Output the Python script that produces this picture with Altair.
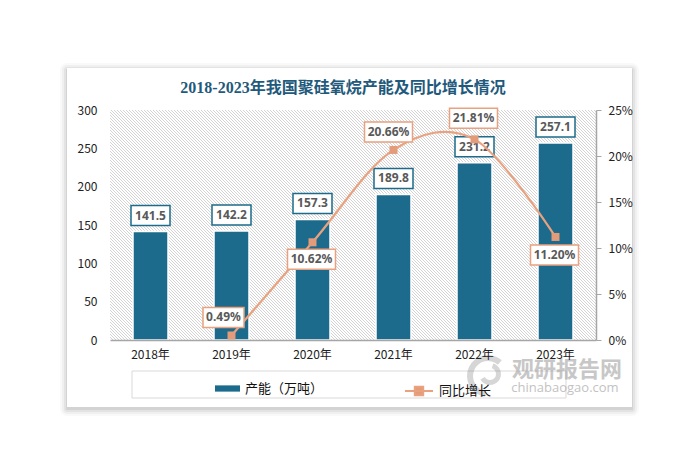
import altair as alt
import pandas as pd

# ---------------- data ----------------
years = ["2018年", "2019年", "2020年", "2021年", "2022年", "2023年"]
capacity = [141.5, 142.2, 157.3, 189.8, 231.2, 257.1]          # 产能（万吨）
growth_years = ["2019年", "2020年", "2021年", "2022年", "2023年"]
growth = [0.49, 10.62, 20.66, 21.81, 11.20]                    # 同比增长 (%)
left_ticks = [0, 50, 100, 150, 200, 250, 300]
right_ticks = [0, 5, 10, 15, 20, 25]

# ---------------- style ----------------
W, H = 486, 230
BAR = "#1c6b8c"
LINE = "#e9a17f"
MARK = "#e49b79"
TITLE_C = "#1f5a7c"
CJK = "Noto Sans CJK SC"
NUM = "Noto Sans"
# label placement (pixel offsets of the growth label boxes from their points)
pct_dx = [-8, -1, -5, -1, -1]
pct_dy = [-18, 17, -18, -21, 18]

bar_df = pd.DataFrame({"year": years, "cap": capacity, "series": "产能（万吨）"})
bar_df["label"] = [f"{v:.1f}" for v in capacity]
g_df = pd.DataFrame({"year": growth_years, "g": [v / 100 for v in growth], "series": "同比增长"})
g_df["label"] = [f"{v:.2f}%" for v in growth]
one = pd.DataFrame({"a": [0]})

x_enc = alt.X("year:N", sort=years,
              scale=alt.Scale(domain=years, paddingInner=0, paddingOuter=0),
              axis=alt.Axis(title=None, labelAngle=0, ticks=False, grid=False, zindex=1,
                            domainColor="#a6a6a6", domainWidth=1.5, labelPadding=9,
                            labelFont=CJK, labelFontSize=12, labelColor="#222222"))
yl = alt.Y("cap:Q", scale=alt.Scale(domain=[0, 300], nice=False),
           axis=alt.Axis(values=left_ticks, title=None, domain=False, ticks=False, grid=False,
                         zindex=1, labelPadding=13, labelFont=CJK, labelFontSize=12,
                         labelColor="#222222"))
yr = alt.Y("g:Q", scale=alt.Scale(domain=[0, 0.25], nice=False),
           axis=alt.Axis(orient="right", values=[v / 100 for v in right_ticks], format=".0%",
                         title=None, grid=False, zindex=1, domainColor="#a6a6a6", domainWidth=1.5,
                         tickColor="#a6a6a6", tickSize=5, labelPadding=7,
                         labelFont=CJK, labelFontSize=12, labelColor="#222222"))

# ---------------- hatch background via striped gradient ----------------
L = W + H
stops = [alt.GradientStop(offset=0, color="#d3d3d3")]
m = 0
while 3 * m - 0.5 <= L:
    for off, col in [(3 * m - 0.5, "#d3d3d3"), (3 * m + 0.5, "#d3d3d3"),
                     (3 * m + 0.8, "#ffffff"), (3 * m + 2.2, "#ffffff")]:
        if 0 < off < L:
            stops.append(alt.GradientStop(offset=round(off / L, 6), color=col))
    m += 1
k = L / (W * W + H * H)
hatch_fill = alt.LinearGradient(gradient="linear", stops=stops,
                                x1=0, y1=1, x2=round(k * W, 6), y2=round(1 - k * H, 6))

# ---------------- card ----------------
CX1, CX2, CY1, CY2 = -43, 522, -42, 297
shadow_layers = []
for e, op in [(7, 0.025), (5, 0.035), (3, 0.05), (1, 0.07)]:
    shadow_layers.append(
        alt.Chart(one).mark_rect(color="#000000", opacity=op, cornerRadius=e).encode(
            x=alt.value(CX1 - e), x2=alt.value(CX2 + e),
            y=alt.value(CY1 - e + 2), y2=alt.value(CY2 + e + 2)))
card = alt.Chart(one).mark_rect(color="#ffffff").encode(
    x=alt.value(CX1), x2=alt.value(CX2), y=alt.value(CY1), y2=alt.value(CY2))
hatch = alt.Chart(one).mark_rect(fill=hatch_fill).encode(
    x=alt.value(0), x2=alt.value(W), y=alt.value(0), y2=alt.value(H))

# ---------------- bars ----------------
bars = alt.Chart(bar_df).mark_bar(size=35, stroke="white", strokeWidth=1.5).encode(
    x=x_enc, y=yl,
    color=alt.Color("series:N", scale=alt.Scale(domain=["产能（万吨）"], range=[BAR]),
                    legend=alt.Legend(title=None, orient="none", legendX=105, legendY=266,
                                      symbolType="M-1,-0.25L1,-0.25L1,0.25L-1,0.25Z",
                                      symbolSize=625, symbolStrokeWidth=0, labelOffset=5,
                                      labelFont=CJK, labelFontSize=13, labelColor="#111111")))
bar_box = alt.Chart(bar_df).mark_bar(size=39, fill="white", stroke=BAR, strokeWidth=1.5,
                                     yOffset=-26, y2Offset=-6).encode(
    x=x_enc, y=yl, y2="cap:Q")
bar_txt = alt.Chart(bar_df).mark_text(font=NUM, fontSize=12, fontWeight="bold", color="#595959",
                                      baseline="middle", yOffset=-16).encode(
    x=x_enc, y=yl, text="label:N")
left = alt.layer(bars, bar_box, bar_txt)

# ---------------- growth line ----------------
line = alt.Chart(g_df).mark_line(interpolate="cardinal", tension=0, strokeWidth=2.2).encode(
    x=x_enc, y=yr,
    stroke=alt.Stroke("series:N", scale=alt.Scale(domain=["同比增长"], range=[LINE]),
                      legend=alt.Legend(title=None, orient="none", legendX=294, legendY=266,
                                        symbolType="M-1,0L1,0M-0.3,-0.3L0.3,-0.3L0.3,0.3L-0.3,0.3Z",
                                        symbolSize=784, symbolStrokeWidth=2,
                                        symbolFillColor=MARK, labelOffset=5,
                                        labelFont=CJK, labelFontSize=13, labelColor="#111111")))
pts = alt.Chart(g_df).mark_point(shape="square", filled=True, size=64, color=MARK, opacity=1).encode(
    x=x_enc, y=yr)
pct_layers = []
for yv, lab, dx, dy in zip(growth_years, g_df["label"], pct_dx, pct_dy):
    w = 7 * len(lab) + 6
    sub = alt.Chart(g_df).transform_filter(alt.datum.year == yv)
    pct_layers.append(sub.mark_bar(size=w, fill="white", stroke=LINE, strokeWidth=1.5,
                                   xOffset=dx, yOffset=dy - 10, y2Offset=dy + 10).encode(
        x=x_enc, y=yr, y2="g:Q"))
    pct_layers.append(sub.mark_text(font=NUM, fontSize=12, fontWeight="bold", color="#595959",
                                    baseline="middle", xOffset=dx, yOffset=dy).encode(
        x=x_enc, y=yr, text="label:N"))
right = alt.layer(line, pts, *pct_layers)

# ---------------- decorations on top ----------------
legend_box = alt.Chart(one).mark_rect(fill=None, stroke="#d9d9d9", strokeWidth=1).encode(
    x=alt.value(22), x2=alt.value(456), y=alt.value(261), y2=alt.value(288))
title = alt.Chart(one).mark_text(text="2018-2023年我国聚硅氧烷产能及同比增长情况",
                                 font="Liberation Serif, " + CJK, fontSize=16, fontWeight="bold",
                                 color=TITLE_C, baseline="middle", align="center").encode(
    x=alt.value(233), y=alt.value(-22))
# watermark (logo swirl + text)
logo1 = alt.Chart(one).mark_arc(radius=21, radius2=15, theta=3.3, theta2=7.0,
                                color="#8a8a8a", opacity=0.35).encode(
    x=alt.value(378), y=alt.value(266))
logo2 = alt.Chart(one).mark_arc(radius=11, radius2=6, theta=0.3, theta2=4.2,
                                color="#8a8a8a", opacity=0.35).encode(
    x=alt.value(380), y=alt.value(264))
wm1 = alt.Chart(one).mark_text(text="观研报告网", font=CJK, fontSize=22, fontWeight="bold",
                               color="#9a9a9a", opacity=0.55, baseline="middle", align="center").encode(
    x=alt.value(457), y=alt.value(260))
wm2 = alt.Chart(one).mark_text(text="chinabaogao.com", font="Open Sans", fontSize=13,
                               color="#9a9a9a", opacity=0.6, baseline="middle", align="center").encode(
    x=alt.value(455), y=alt.value(278))

chart = alt.layer(*shadow_layers, card, hatch, left, right, legend_box, title,
                  logo1, logo2, wm1, wm2).resolve_scale(
    y="independent"
).properties(
    width=W, height=H,
    autosize=alt.AutoSizeParams(type="none"),
    padding={"left": 102, "top": 102, "right": 96, "bottom": 123},
    background="white",
).configure_view(stroke=None)

chart.save("out.html", embed_options={"renderer": "svg", "actions": False})
